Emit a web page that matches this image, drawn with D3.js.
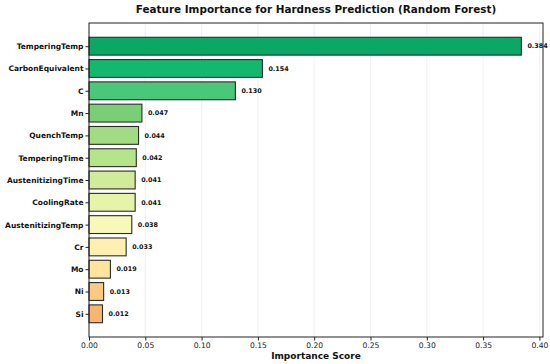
<!DOCTYPE html>
<html>
<head>
<meta charset="utf-8">
<title>Feature Importance</title>
<script src="https://cdn.jsdelivr.net/npm/d3@7"></script>
<style>
  body { margin: 0; background: #fff; }
  svg { font-family: "DejaVu Sans", sans-serif; }
</style>
</head>
<body>
<script>
// data (top to bottom)
var features = ["TemperingTemp", "CarbonEquivalent", "C", "Mn", "QuenchTemp", "TemperingTime",
                "AustenitizingTime", "CoolingRate", "AustenitizingTemp", "Cr", "Mo", "Ni", "Si"];
var importance = [0.384, 0.154, 0.130, 0.047, 0.044, 0.042, 0.041, 0.041, 0.038, 0.033, 0.019, 0.013, 0.012];
var xTicks = [0.00, 0.05, 0.10, 0.15, 0.20, 0.25, 0.30, 0.35, 0.40];
var barColors = ["#0aa864", "#14b86c", "#48c878", "#78cf74", "#a2dc82", "#b6e48a", "#d0ec9a",
                 "#e6f4aa", "#f8f8ba", "#fff0b2", "#fee49c", "#fdca84", "#f9b46e"];

var W = 550, H = 364;
var margin = {top: 23, right: 7, bottom: 27, left: 89};
var pw = W - margin.left - margin.right, ph = H - margin.top - margin.bottom;

var svg = d3.select("body").append("svg").attr("width", W).attr("height", H);
var g = svg.append("g").attr("transform", "translate(" + margin.left + "," + margin.top + ")");

var x = d3.scaleLinear().domain([0, d3.max(importance) * 1.05]).range([0, pw]);
// matplotlib barh: index positions with margins
var n = features.length;
var pad = 0.05 * (n - 1 + 0.8);
var y = d3.scaleLinear().domain([-0.4 - pad, n - 1 + 0.4 + pad]).range([0, ph]);
var bh = y(0.8) - y(0);

// grid
g.selectAll("line.grid").data(xTicks).enter().append("line")
  .attr("x1", d => x(d)).attr("x2", d => x(d))
  .attr("y1", 0).attr("y2", ph)
  .attr("stroke", "#ececec").attr("stroke-width", 0.8);

// bars
g.selectAll("rect.bar").data(importance).enter().append("rect")
  .attr("x", x(0))
  .attr("y", (d, i) => y(i - 0.4))
  .attr("width", d => x(d) - x(0))
  .attr("height", bh)
  .attr("fill", (d, i) => barColors[i])
  .attr("stroke", "#2b2b2b").attr("stroke-width", 1.1);

// value labels
g.selectAll("text.val").data(importance).enter().append("text")
  .attr("x", d => x(d) + 6)
  .attr("y", (d, i) => y(i))
  .attr("dy", "0.35em")
  .attr("font-size", 6.4).attr("font-weight", "bold").attr("fill", "#111")
  .text(d => d.toFixed(3));

// axes
var xAxis = d3.axisBottom(x).tickValues(xTicks).tickFormat(d3.format(".2f")).tickSize(3.5).tickPadding(2);
var gx = g.append("g").attr("transform", "translate(0," + ph + ")").call(xAxis);
gx.select(".domain").remove();
gx.selectAll("text").attr("font-size", 7.6).attr("fill", "#222").attr("font-family", "DejaVu Sans");
gx.selectAll("line").attr("stroke", "#222");

var yAxis = d3.axisLeft(y).tickValues(d3.range(n)).tickFormat(i => features[i]).tickSize(3.5).tickPadding(2);
var gy = g.append("g").call(yAxis);
gy.select(".domain").remove();
gy.selectAll("text").attr("font-size", 7.5).attr("font-weight", "bold").attr("fill", "#111").attr("font-family", "DejaVu Sans");
gy.selectAll("line").attr("stroke", "#222");

// frame
g.append("rect").attr("width", pw).attr("height", ph)
  .attr("fill", "none").attr("stroke", "#222").attr("stroke-width", 1);

// titles
svg.append("text")
  .attr("x", margin.left + pw / 2).attr("y", 13)
  .attr("text-anchor", "middle").attr("font-size", 10.4).attr("font-weight", "bold").attr("fill", "#111")
  .text("Feature Importance for Hardness Prediction (Random Forest)");

svg.append("text")
  .attr("x", margin.left + pw / 2).attr("y", 359)
  .attr("text-anchor", "middle").attr("font-size", 9).attr("font-weight", "bold").attr("fill", "#111")
  .text("Importance Score");
</script>
</body>
</html>
